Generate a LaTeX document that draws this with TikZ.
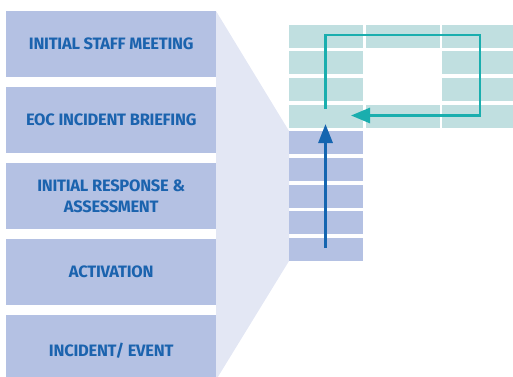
\documentclass[tikz,border=0pt]{standalone}
\usepackage{fontspec}
\setmainfont{Fira Sans}
\newfontfamily\labfont{Fira Sans Bold}[LetterSpace=-1.5]
\usetikzlibrary{arrows.meta}
\definecolor{boxblue}{HTML}{B4C1E3}
\definecolor{txtblue}{HTML}{1B63AE}
\definecolor{fanfill}{HTML}{E3E7F4}
\definecolor{tealcell}{HTML}{C0DFE0}
\definecolor{tealline}{HTML}{1AAEAE}
\definecolor{arrowblue}{HTML}{1565B0}
\tikzset{
  stagebox/.style={fill=boxblue, draw=none, minimum width=210pt, minimum height=66pt, inner sep=0pt, anchor=north west,
    font=\labfont\fontsize{16.5}{21.5}\selectfont, text=txtblue, align=center},
  bluecell/.style={fill=boxblue, draw=none, minimum width=74pt, minimum height=23pt, inner sep=0pt, anchor=north west},
  tealcellbox/.style={fill=tealcell, draw=none, minimum height=23pt, inner sep=0pt, anchor=north west},
}
\begin{document}
\begin{tikzpicture}[x=1pt,y=-1pt]
\useasboundingbox (0,0) rectangle (513,376);
\begin{scope}
\clip (0,0) rectangle (513,376);
% fan
\fill[fanfill] (216,11) -- (289,131) -- (289,261) -- (216,380) -- cycle;
% stage boxes
\node[stagebox] (s1) at (6,11) {INITIAL STAFF MEETING};
\node[stagebox] (s2) at (6,87) {EOC INCIDENT BRIEFING};
\node[stagebox] (s3) at (6,163) {INITIAL RESPONSE \&\\ASSESSMENT};
\node[stagebox] (s4) at (6,239) {ACTIVATION};
\node[stagebox, minimum height=70pt] (s5) at (6,315) {INCIDENT/ EVENT};
% blue column
\node[bluecell] (b1) at (289,131) {};
\node[bluecell] (b2) at (289,158) {};
\node[bluecell] (b3) at (289,184.5) {};
\node[bluecell] (b4) at (289,211) {};
\node[bluecell] (b5) at (289,238) {};
% teal grid
\node[tealcellbox, minimum width=74pt] (t11) at (289,25) {};
\node[tealcellbox, minimum width=74pt] (t12) at (366,25) {};
\node[tealcellbox, minimum width=71pt] (t13) at (442,25) {};
\node[tealcellbox, minimum width=74pt] (t21) at (289,51) {};
\node[tealcellbox, minimum width=71pt] (t23) at (442,51) {};
\node[tealcellbox, minimum width=74pt] (t31) at (289,77.5) {};
\node[tealcellbox, minimum width=71pt] (t33) at (442,77.5) {};
\node[tealcellbox, minimum width=74pt] (t41) at (289,105) {};
\node[tealcellbox, minimum width=74pt] (t42) at (366,105) {};
\node[tealcellbox, minimum width=71pt] (t43) at (442,105) {};
\end{scope}
% arrows
\coordinate (ua) at (325.5,248);
\coordinate (ub) at (325.5,124);
\draw[arrowblue, line width=3pt, -{Triangle[length=19pt,width=14pt]}] (ua) -- (ub);
\coordinate (la) at (325.5,109);
\coordinate (lb) at (325.5,35);
\coordinate (lc) at (480,35);
\coordinate (ld) at (480,115.5);
\coordinate (le) at (351,115.5);
\draw[tealline, line width=2.7pt, -{Triangle[length=19pt,width=15pt]}] (la) -- (lb) -- (lc) -- (ld) -- (le);
\end{tikzpicture}
\end{document}
